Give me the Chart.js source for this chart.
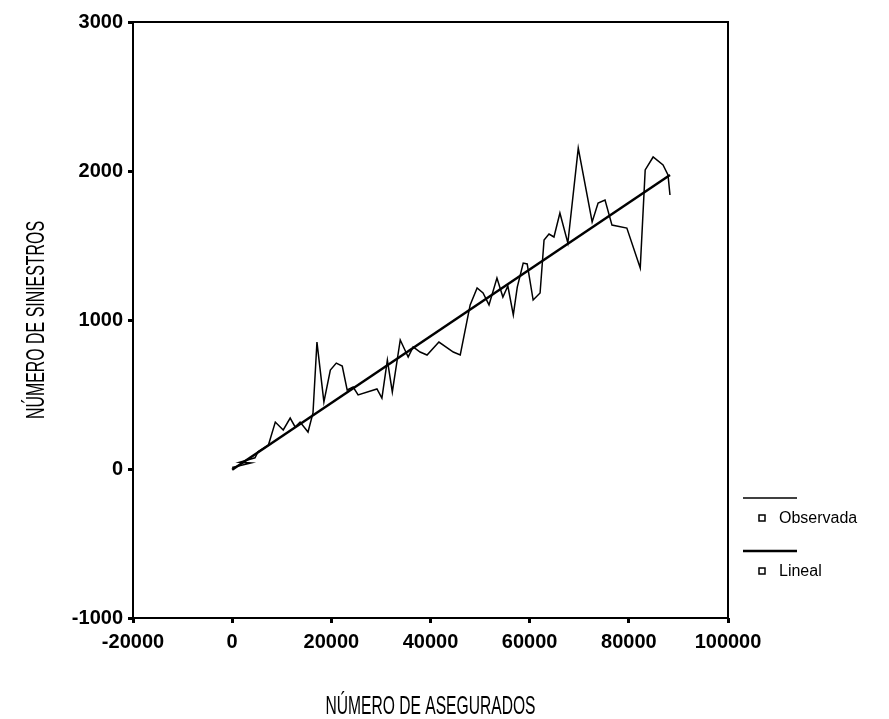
<!DOCTYPE html>
<html>
<head>
<meta charset="utf-8">
<title>Siniestros vs asegurados</title>
<script src="https://cdn.jsdelivr.net/npm/chart.js@4.4.1/dist/chart.umd.min.js"></script>
<style>
  html, body { margin: 0; padding: 0; background: #fff; }
  #wrap { width: 889px; height: 719px; }
</style>
</head>
<body>
<div id="wrap"><canvas id="myChart" width="889" height="719"></canvas></div>
<script>
  // observed pairs: number of insured (x) and number of claims (y)
  const asegurados = [0, 3800, 1500, 4600, 5200, 7300, 8700, 10300, 11700, 12700, 13700, 15300, 16300, 17100,
    18500, 19800, 21000, 22200, 23200, 24400, 25400, 29200, 30200, 31300, 32300, 33900, 35500, 36500, 37900,
    39300, 41700, 44600, 46000, 48000, 49400, 50600, 51800, 53400, 54600, 55600, 56700, 57500, 58700, 59500,
    60700, 62100, 62900, 63900, 64900, 66100, 67700, 69800, 72600, 73800, 75200, 76600, 79600, 82300, 83300,
    84900, 86900, 87900, 88300];
  const siniestros = [10, 40, 45, 75, 115, 160, 315, 262, 342, 282, 315, 248, 376, 852,
    450, 664, 711, 691, 530, 550, 497, 537, 476, 731, 517, 866, 752, 819, 785,
    765, 852, 785, 765, 1101, 1215, 1181, 1101, 1282, 1154, 1228, 1034, 1221, 1382, 1376,
    1134, 1181, 1537, 1577, 1557, 1718, 1517, 2154, 1658, 1785, 1805, 1637, 1617, 1349, 2007,
    2094, 2040, 1973, 1839];

  // fitted linear model end points
  const linealX = [0, 88300];
  const linealY = [-5, 1973];

  // axis ticks
  const xTicks = [-20000, 0, 20000, 40000, 60000, 80000, 100000];
  const yTicks = [-1000, 0, 1000, 2000, 3000];

  const seriesLabels = ['Observada', 'Lineal'];
  const xTitle = 'NÚMERO DE ASEGURADOS';
  const yTitle = 'NÚMERO DE SINIESTROS';

  // zip x/y arrays into point objects for the linear x scale
  function toPoints(xs, ys) {
    return xs.map((x, i) => ({ x: x, y: ys[i] }));
  }

  // box around the plot area
  const frame = {
    id: 'frame',
    afterDraw(chart) {
      const a = chart.chartArea, ctx = chart.ctx;
      ctx.save();
      ctx.strokeStyle = '#000';
      ctx.lineWidth = 2;
      ctx.strokeRect(a.left, a.top, a.right - a.left, a.bottom - a.top);
      ctx.restore();
    }
  };

  // narrow axis titles (condensed text, like the original output)
  function narrowText(ctx, text, x, y, width, angle) {
    ctx.save();
    ctx.translate(x, y);
    ctx.rotate(angle);
    ctx.font = '25px "Liberation Sans", Arial, sans-serif';
    const w = ctx.measureText(text).width;
    ctx.scale(width / w, 1);
    ctx.textAlign = 'center';
    ctx.textBaseline = 'middle';
    ctx.fillStyle = '#000';
    ctx.fillText(text, 0, 0);
    ctx.restore();
  }

  const titles = {
    id: 'titles',
    afterDraw(chart) {
      const a = chart.chartArea, ctx = chart.ctx;
      narrowText(ctx, xTitle, (a.left + a.right) / 2, 707, 210, 0);
      narrowText(ctx, yTitle, 37, (a.top + a.bottom) / 2, 198, -Math.PI / 2);
    }
  };

  // legend on the right: a line sample above each entry, then a small box and the label
  const sideLegend = {
    id: 'sideLegend',
    afterDraw(chart) {
      const ctx = chart.ctx;
      ctx.save();
      chart.data.datasets.forEach((ds, i) => {
        const top = 498 + i * 53;
        ctx.strokeStyle = '#000';
        ctx.lineWidth = ds.borderWidth;
        ctx.beginPath();
        ctx.moveTo(743, top);
        ctx.lineTo(797, top);
        ctx.stroke();
        ctx.lineWidth = 1.5;
        ctx.strokeRect(759, top + 17, 6, 6);
        ctx.font = '16px "Liberation Sans", Arial, sans-serif';
        ctx.fillStyle = '#000';
        ctx.textBaseline = 'middle';
        ctx.fillText(ds.label, 779, top + 21);
      });
      ctx.restore();
    }
  };

  const tickFont = { family: '"Liberation Sans", Arial, sans-serif', size: 20, weight: 'bold' };

  const canvas = document.getElementById('myChart');
  const chart = new Chart(canvas, {
    type: 'line',
    data: {
      datasets: [
        {
          label: seriesLabels[0],
          data: toPoints(asegurados, siniestros),
          borderColor: '#000',
          borderWidth: 1.5,
          pointRadius: 0,
          tension: 0
        },
        {
          label: seriesLabels[1],
          data: toPoints(linealX, linealY),
          borderColor: '#000',
          borderWidth: 2.5,
          pointRadius: 0,
          tension: 0
        }
      ]
    },
    options: {
      responsive: false,
      animation: false,
      devicePixelRatio: 1,
      layout: { padding: { left: 0, right: 161, top: 22, bottom: 0 } },
      plugins: {
        legend: { display: false },
        tooltip: { enabled: false }
      },
      scales: {
        x: {
          type: 'linear',
          min: -20000,
          max: 100000,
          afterBuildTicks: s => { s.ticks = xTicks.map(v => ({ value: v })); },
          afterFit: s => { s.height = 101; },
          border: { display: false },
          grid: { drawOnChartArea: false, drawTicks: true, tickLength: 5, lineWidth: 3, color: '#000' },
          ticks: { color: '#000', font: tickFont, padding: 7, maxRotation: 0, callback: v => String(v) }
        },
        y: {
          type: 'linear',
          min: -1000,
          max: 3000,
          afterBuildTicks: s => { s.ticks = yTicks.map(v => ({ value: v })); },
          afterFit: s => { s.width = 133; },
          border: { display: false },
          grid: { drawOnChartArea: false, drawTicks: true, tickLength: 5, lineWidth: 3, color: '#000' },
          ticks: { color: '#000', font: tickFont, padding: 5, callback: v => String(v) }
        }
      }
    },
    plugins: [frame, titles, sideLegend]
  });
</script>
</body>
</html>
